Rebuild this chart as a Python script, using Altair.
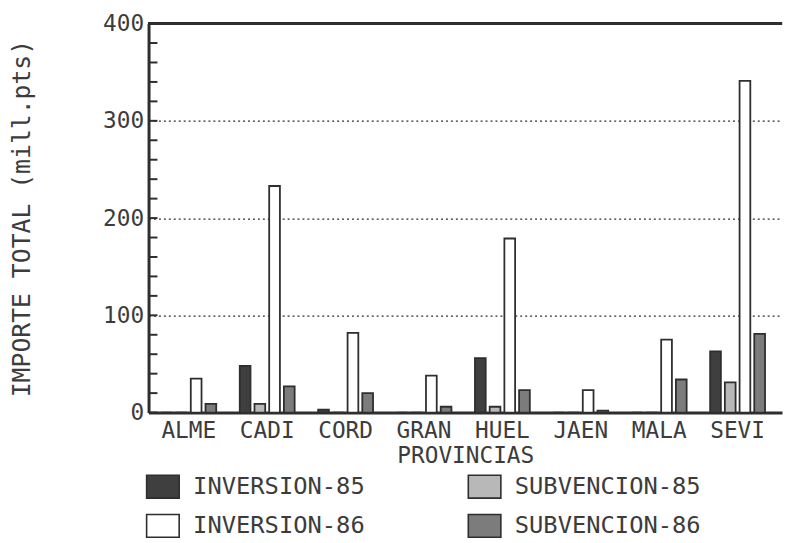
import altair as alt
import pandas as pd

provincias = ["ALME", "CADI", "CORD", "GRAN", "HUEL", "JAEN", "MALA", "SEVI"]
series = ["INVERSION-85", "SUBVENCION-85", "INVERSION-86", "SUBVENCION-86"]
inversion_85 = [0, 48, 3, 0, 56, 0, 0, 63]
subvencion_85 = [0, 9, 0, 0, 6, 0, 0, 31]
inversion_86 = [35, 233, 82, 38, 179, 23, 75, 341]
subvencion_86 = [9, 27, 20, 6, 23, 2, 34, 81]
y_ticks_major = [0, 100, 200, 300, 400]
y_ticks_minor = list(range(0, 401, 20))

rows = []
for i, p in enumerate(provincias):
    for s, vals in zip(series, [inversion_85, subvencion_85, inversion_86, subvencion_86]):
        rows.append({"prov": p, "serie": s, "valor": vals[i]})
df = pd.DataFrame(rows)
ticks_df = pd.DataFrame({"marca": y_ticks_minor})

FONT = "DejaVu Sans Mono"
TXT = "#3c3c3c"
LINE = "#2e2e2e"
W, H = 640, 393

x_scale = alt.Scale(domain=provincias, paddingInner=0.3, paddingOuter=0.19, align=0.43)
y_scale = alt.Scale(domain=[0, 400], nice=False)

bars = alt.Chart(df).mark_bar(stroke=LINE, strokeWidth=1.8, opacity=1).encode(
    x=alt.X("prov:N", sort=provincias, scale=x_scale,
            axis=alt.Axis(title="PROVINCIAS", labelAngle=0, ticks=False, domainWidth=3,
                          domainColor=LINE, labelFont=FONT, labelFontSize=23, labelColor=TXT,
                          labelBaseline="middle", labelPadding=18, titleFont=FONT,
                          titleFontSize=23, titleFontWeight="normal", titleColor=TXT,
                          titleY=43, titleBaseline="middle", grid=False)),
    xOffset=alt.XOffset("serie:N", sort=series,
                        scale=alt.Scale(domain=series, paddingInner=0.27, paddingOuter=0)),
    y=alt.Y("valor:Q", scale=y_scale,
            axis=alt.Axis(values=y_ticks_major, title="IMPORTE TOTAL (mill.pts)", grid=True,
                          gridDash=[2, 3], gridColor=LINE, gridWidth=1.2, ticks=False,
                          domainWidth=3, domainColor=LINE, labelFont=FONT, labelFontSize=23,
                          labelColor=TXT, labelPadding=5, titleFont=FONT, titleFontSize=25,
                          titleFontWeight="normal", titleColor=TXT, titleX=-128, titleY=H / 2,
                          titleBaseline="middle", titleAngle=-90)),
    color=alt.Color("serie:N", sort=series,
                    scale=alt.Scale(domain=series, range=["#3f3f3f", "#b8b8b8", "#ffffff", "#7c7c7c"]),
                    legend=alt.Legend(orient="none", legendX=2, legendY=455, columns=2,
                                      direction="horizontal",
                                      columnPadding=100, rowPadding=9, title=None,
                                      symbolType="M-1.43,-1H1.43V1H-1.43Z", symbolSize=529,
                                      symbolStrokeColor=LINE, symbolStrokeWidth=1.6,
                                      symbolOpacity=1, labelFont=FONT, labelFontSize=24,
                                      labelColor=TXT, labelOffset=18, labelLimit=300)),
)

minor_ticks = alt.Chart(ticks_df).mark_rule(color=LINE, strokeWidth=2).encode(
    y=alt.Y("marca:Q"),
    x=alt.value(0),
    x2=alt.value(9),
)

top_border = alt.Chart(ticks_df).mark_rule(color=LINE, strokeWidth=3).encode(
    y=alt.value(0),
    x=alt.value(0),
    x2=alt.value(W),
)

chart = alt.layer(bars, minor_ticks, top_border).properties(
    width=W, height=H,
    autosize=alt.AutoSizeParams(type="none"),
    padding={"left": 142, "top": 13, "right": 1, "bottom": 126},
    background="white",
).configure_view(stroke=None)

chart.save("out.html", embed_options={"renderer": "svg", "actions": False})
